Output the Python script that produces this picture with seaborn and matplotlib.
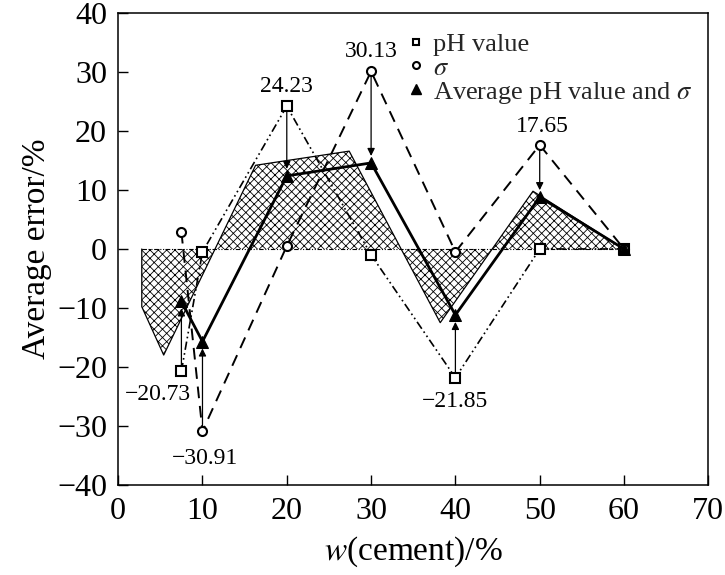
import numpy as np
import pandas as pd
import matplotlib
matplotlib.use("Agg")
import matplotlib.pyplot as plt
from matplotlib.lines import Line2D
import seaborn as sns

# data
cement = [7.5, 10, 20, 30, 40, 50, 60]
ph_err = [-20.73, -0.5, 24.23, -1.0, -21.85, 0.0, 0.0]
sigma_err = [2.9, -30.91, 0.5, 30.13, -0.5, 17.65, 0.0]
avg_err = [-8.9, -15.7, 12.4, 14.6, -11.2, 8.8, 0.0]

# hatched band (outline of the shaded region, closed along zero)
band_x = [2.8, 2.8, 5.4, 16.3, 27.4, 38.2, 49.2, 60]
band_y = [0, -9.8, -18.0, 14.2, 16.6, -12.5, 9.8, 0]

# labelled points: (x, value, label, text offset in points)
labels = [
    (7.5, -20.73, "\u221220.73", (-17, -17)),
    (10, -30.91, "\u221230.91", (2, -20)),
    (20, 24.23, "24.23", (0, 14)),
    (30, 30.13, "30.13", (0, 14)),
    (40, -21.85, "\u221221.85", (0, -17)),
    (50, 17.65, "17.65", (2, 13)),
]

sns.set_theme(style="ticks")
plt.rcParams['font.family'] = ['Liberation Serif', 'DejaVu Serif']
plt.rcParams['mathtext.fontset'] = 'stix'
plt.rcParams['hatch.linewidth'] = 0.6
plt.rcParams['hatch.color'] = 'black'

df = pd.DataFrame({"x": cement, "ph": ph_err, "sigma": sigma_err, "avg": avg_err})

fig = plt.figure(figsize=(7.25, 5.75), dpi=100)
ax = fig.add_axes([0.163, 0.157, 0.814, 0.82])

# shaded band
ax.fill(band_x, band_y, facecolor='none', edgecolor='black', linewidth=0,
        hatch='xxxx', zorder=1)
ax.plot(band_x, band_y, color='black', lw=0.9, zorder=2)
ax.plot([band_x[0], band_x[-1]], [0, 0], color='black', lw=0.8,
        linestyle=(0, (4, 1.5, 1, 1.5, 1, 1.5)), zorder=2)

sns.lineplot(data=df, x="x", y="ph", ax=ax, color='black', lw=1.2,
             linestyle=(0, (5, 2, 1, 2, 1, 2)), marker='s', markersize=6.5,
             markerfacecolor='white', markeredgecolor='black', markeredgewidth=1.5,
             zorder=4)
sns.lineplot(data=df, x="x", y="sigma", ax=ax, color='black', lw=1.4,
             linestyle=(0, (6, 4)), marker='o', markersize=6.5,
             markerfacecolor='white', markeredgecolor='black', markeredgewidth=1.5,
             zorder=4)
sns.lineplot(data=df, x="x", y="avg", ax=ax, color='black', lw=2.0,
             linestyle='-', marker='^', markersize=8,
             markerfacecolor='black', markeredgecolor='black', zorder=5)

avg_map = dict(zip(cement, avg_err))
for x, v, txt, off in labels:
    ax.annotate("", xy=(x, avg_map[x]), xytext=(x, v),
                arrowprops=dict(arrowstyle='-|>', color='black', lw=0.9,
                                mutation_scale=11, shrinkA=4, shrinkB=5),
                zorder=3)
    ax.annotate(txt, xy=(x, v), xytext=off, textcoords='offset points',
                ha='center', va='center', fontsize=17, color='black')

ax.set_xlim(0, 70)
ax.set_ylim(-40, 40)
ax.set_xticks(np.arange(0, 71, 10))
ax.set_yticks(np.arange(-40, 41, 10))
ax.set_yticklabels([f"{t}".replace("-", "\u2212") for t in range(-40, 41, 10)])
ax.tick_params(direction='in', length=7, width=1, labelsize=23, colors='black',
               top=False, right=False)
ax.tick_params(axis='x', pad=9)
ax.tick_params(axis='y', pad=8)
for sp in ax.spines.values():
    sp.set_visible(True)
    sp.set_linewidth(1.1)
    sp.set_color('black')

ax.set_xlabel(r"$w$(cement)/%", fontsize=24, color='black', labelpad=6)
ax.set_ylabel("Average error/%", fontsize=24, color='black', labelpad=4)

handles = [
    Line2D([], [], linestyle='none', marker='s', markersize=5, markerfacecolor='white',
           markeredgecolor='black', markeredgewidth=1.5),
    Line2D([], [], linestyle='none', marker='o', markersize=5, markerfacecolor='white',
           markeredgecolor='black', markeredgewidth=1.5),
    Line2D([], [], linestyle='none', marker='^', markersize=6.5, markerfacecolor='black',
           markeredgecolor='black'),
]
ax.legend(handles, ["pH value", r"$\sigma$", r"Average pH value and $\sigma$"],
          loc='upper left', bbox_to_anchor=(0.48, 0.97), frameon=False,
          fontsize=19, handlelength=0.7, handletextpad=0.3, labelspacing=0.0,
          borderpad=0.2, borderaxespad=0)

fig.savefig("out.png", dpi=100)
